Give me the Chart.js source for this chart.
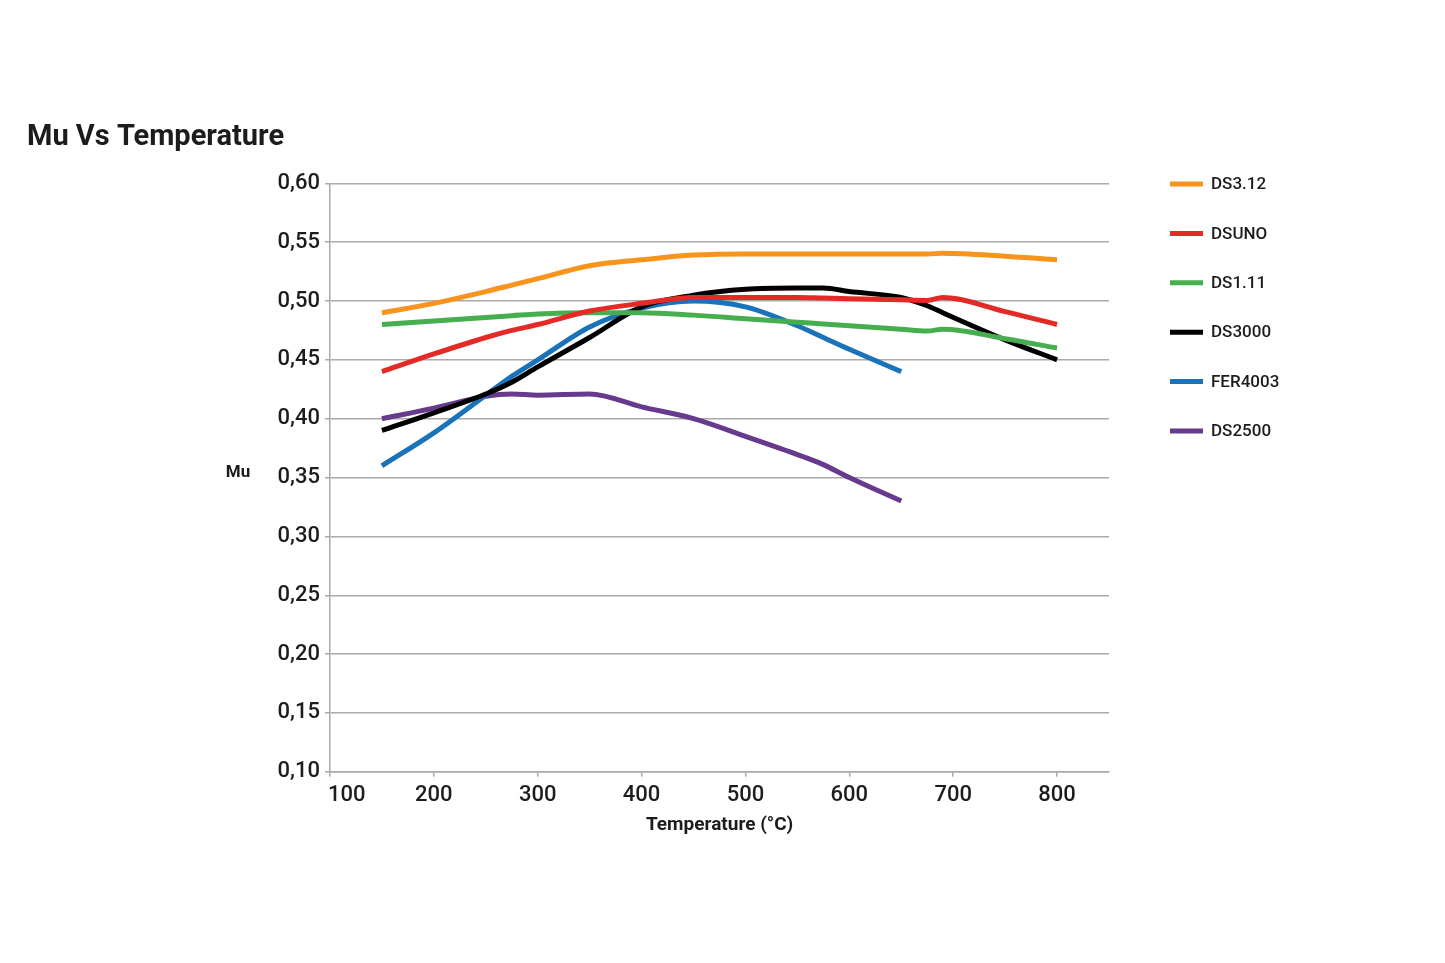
<!DOCTYPE html>
<html>
<head>
<meta charset="utf-8">
<script src="https://cdn.jsdelivr.net/npm/chart.js@4/dist/chart.umd.min.js"></script>
<style>
  html, body { margin: 0; padding: 0; background: #fff; }
  canvas { display: block; }
</style>
</head>
<body>
<canvas id="myChart" width="1445" height="963"></canvas>
<script>
// temperatures (°C) where the curves were sampled
const temps = [150, 200, 250, 275, 300, 350, 400, 450, 500, 550, 575, 600, 650, 675, 690, 750, 800];

const seriesNames = ["DS3.12", "DSUNO", "DS1.11", "DS3000", "FER4003", "DS2500"];
const seriesColors = ["#f7941d", "#e42a26", "#46ae4f", "#000000", "#1a72b9", "#673a8e"];

const ds312 = [0.490, 0.498, 0.508, 0.5135, 0.519, 0.530, 0.535, 0.539, 0.540, 0.540, 0.540, 0.540, 0.540, 0.540, 0.5405, 0.538, 0.535];
const dsuno = [0.440, 0.455, 0.469, 0.475, 0.480, 0.4915, 0.498, 0.503, 0.503, 0.503, 0.5025, 0.502, 0.501, 0.5005, 0.503, 0.491, 0.480];
const ds111 = [0.480, 0.483, 0.486, 0.4875, 0.489, 0.490, 0.490, 0.488, 0.485, 0.482, 0.4805, 0.479, 0.476, 0.4745, 0.476, 0.468, 0.460];
const ds3000 = [0.390, 0.405, 0.421, 0.431, 0.444, 0.469, 0.495, 0.505, 0.510, 0.511, 0.511, 0.508, 0.503, 0.496, 0.490, 0.467, 0.450];
const fer4003 = [0.360, 0.388, 0.420, 0.436, 0.450, 0.478, 0.494, 0.500, 0.495, 0.479, 0.469, 0.459, 0.440, null, null, null, null];
const ds2500 = [0.400, 0.409, 0.419, 0.421, 0.420, 0.421, 0.410, 0.400, 0.385, 0.3695, 0.361, 0.350, 0.330, null, null, null, null];

const seriesValues = [ds312, dsuno, ds111, ds3000, fer4003, ds2500];

const FONT = "Roboto, 'DejaVu Sans', sans-serif";
const TEXT = "#1c1c1c";

const toPoints = (vals) =>
  temps
    .map((t, i) => ({ x: t, y: vals[i] }))
    .filter((p) => p.y !== null);

const datasets = seriesNames.map((name, i) => ({
  label: name,
  data: toPoints(seriesValues[i]),
  borderColor: seriesColors[i],
  backgroundColor: seriesColors[i],
  borderWidth: 5,
  pointRadius: 0,
  cubicInterpolationMode: "monotone",
  borderCapStyle: "butt",
}));

// legend drawn at the right, plus the horizontal "Mu" label
const sidePlugin = {
  id: "sidePlugin",
  beforeDraw: (chart) => {
    // first x label starts at the axis instead of centring on it
    const items = chart.scales.x.getLabelItems();
    if (items.length) {
      items[0].options.textAlign = "left";
      items[0].options.translation[0] -= 2;
    }
  },
  afterDraw: (chart) => {
    const ctx = chart.ctx;
    ctx.save();
    ctx.fillStyle = TEXT;
    ctx.font = "bold 17px " + FONT;
    ctx.textAlign = "center";
    ctx.textBaseline = "middle";
    ctx.fillText("Mu", 238, 473);

    ctx.font = "500 17px " + FONT;
    ctx.textAlign = "left";
    chart.data.datasets.forEach((d, i) => {
      const y = 184 + i * 49.4;
      ctx.strokeStyle = d.borderColor;
      ctx.lineWidth = 5;
      ctx.beginPath();
      ctx.moveTo(1170, y);
      ctx.lineTo(1203, y);
      ctx.stroke();
      ctx.fillStyle = TEXT;
      ctx.fillText(d.label, 1211, y + 1);
    });
    ctx.restore();
  },
};

const ctx = document.getElementById("myChart").getContext("2d");
const myChart = new Chart(ctx, {
  type: "line",
  data: { datasets },
  options: {
    responsive: false,
    animation: false,
    layout: {
      padding: { left: 27, right: 336, top: 0, bottom: 126 },
    },
    scales: {
      x: {
        type: "linear",
        min: 100,
        max: 850,
        afterBuildTicks: (scale) => {
          scale.ticks = [100, 200, 300, 400, 500, 600, 700, 800].map((v) => ({ value: v }));
        },
        grid: {
          drawOnChartArea: false,
          tickLength: 5,
          color: "#aaaaaa",
          lineWidth: 1.5,
        },
        border: { color: "#aaaaaa", width: 1.5 },
        ticks: {
          color: TEXT,
          padding: 5,
          maxRotation: 0,
          font: { family: FONT, size: 22, weight: "500" },
        },
        title: {
          display: true,
          text: "Temperature (°C)",
          color: TEXT,
          padding: { top: 1, bottom: 0 },
          font: { family: FONT, size: 19, weight: "bold" },
        },
      },
      y: {
        min: 0.1,
        max: 0.6,
        afterFit: (scale) => {
          scale.width = 303;
        },
        grid: {
          tickLength: 5,
          color: "#aaaaaa",
          lineWidth: 1.5,
        },
        border: { color: "#aaaaaa", width: 1.5 },
        ticks: {
          stepSize: 0.05,
          color: TEXT,
          padding: 5,
          font: { family: FONT, size: 22, weight: "500" },
          callback: (v) => v.toFixed(2).replace(".", ","),
        },
      },
    },
    plugins: {
      legend: { display: false },
      tooltip: { enabled: false },
      title: {
        display: true,
        text: "Mu Vs Temperature",
        align: "start",
        color: TEXT,
        font: { family: FONT, size: 29, weight: "bold" },
        padding: { top: 120, bottom: 28.5 },
      },
    },
  },
  plugins: [sidePlugin],
});
</script>
</body>
</html>
